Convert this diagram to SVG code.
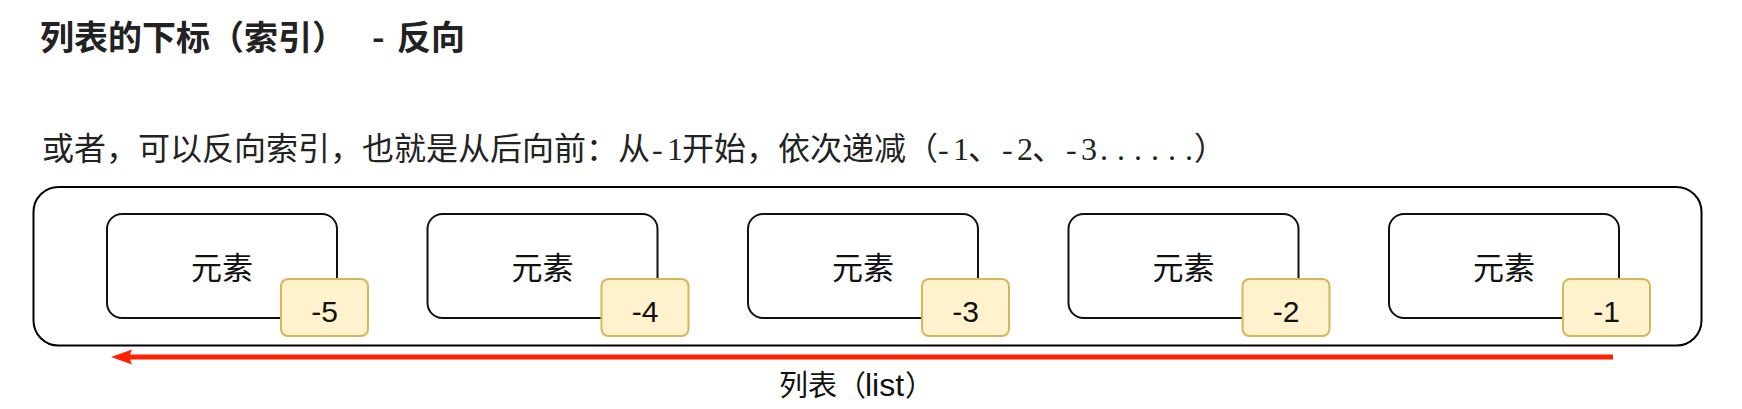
<svg xmlns="http://www.w3.org/2000/svg" width="1742" height="409" viewBox="0 0 1742 409">
  <style>
    .title { font-family: "Noto Sans CJK SC", sans-serif; font-size: 34px; font-weight: 700; fill: #222; }
    .sub { font-family: "Noto Sans CJK SC", sans-serif; font-size: 32px; fill: #222; }
    .subl { font-family: "Liberation Serif", "Noto Sans CJK SC", serif; }
    .outer { fill: #ffffff; stroke: #000; stroke-width: 2; }
    .box { fill: #ffffff; stroke: #111; stroke-width: 2; }
    .badge { fill: #fff2cc; stroke: #d6b656; stroke-width: 2; }
    .lbl { font-family: "Liberation Sans", "Noto Sans CJK SC", sans-serif; font-size: 31px; fill: #111; text-anchor: middle; dominant-baseline: central; }
    .num { font-family: "Liberation Sans", "Noto Sans CJK SC", sans-serif; font-size: 30px; fill: #111; text-anchor: middle; dominant-baseline: central; }
    .cap { font-family: "Liberation Sans", "Noto Sans CJK SC", sans-serif; font-size: 29px; fill: #111; }
    .arrow { stroke: #ff2200; stroke-width: 5; fill: none; }
  </style>

  <g id="title">
    <text class="title" y="50"><tspan x="40">列表的下标（索引）</tspan><tspan x="372">-</tspan><tspan x="397">反向</tspan></text>
  </g>

  <g id="subtitle">
    <text class="sub" y="160"><tspan x="42">或者，可以反向索引，也就是从后向前：从</tspan><tspan class="subl" x="652 667">-1</tspan><tspan x="682">开始，依次递减</tspan><tspan x="906">（</tspan><tspan class="subl" x="938 953">-1</tspan><tspan x="968">、</tspan><tspan class="subl" x="1002 1017">-2</tspan><tspan x="1032">、</tspan><tspan class="subl" x="1066 1081 1100 1117 1134 1151 1168 1185">-3......</tspan><tspan x="1194">）</tspan></text>
  </g>

  <g id="list">
    <rect class="outer" x="33.5" y="187" width="1668" height="158.5" rx="25"/>
  </g>

  <g id="element-5">
    <rect class="box" x="107" y="214" width="230" height="104" rx="15"/>
    <text class="lbl" x="222" y="268">元素</text>
  </g>
  <g id="index-5">
    <rect class="badge" x="281" y="279" width="87" height="57" rx="7"/>
    <text class="num" x="324.5" y="311">-5</text>
  </g>

  <g id="element-4">
    <rect class="box" x="427.5" y="214" width="230" height="104" rx="15"/>
    <text class="lbl" x="542.5" y="268">元素</text>
  </g>
  <g id="index-4">
    <rect class="badge" x="601.5" y="279" width="87" height="57" rx="7"/>
    <text class="num" x="645" y="311">-4</text>
  </g>

  <g id="element-3">
    <rect class="box" x="748" y="214" width="230" height="104" rx="15"/>
    <text class="lbl" x="863" y="268">元素</text>
  </g>
  <g id="index-3">
    <rect class="badge" x="922" y="279" width="87" height="57" rx="7"/>
    <text class="num" x="965.5" y="311">-3</text>
  </g>

  <g id="element-2">
    <rect class="box" x="1068.5" y="214" width="230" height="104" rx="15"/>
    <text class="lbl" x="1183.5" y="268">元素</text>
  </g>
  <g id="index-2">
    <rect class="badge" x="1242.5" y="279" width="87" height="57" rx="7"/>
    <text class="num" x="1286" y="311">-2</text>
  </g>

  <g id="element-1">
    <rect class="box" x="1389" y="214" width="230" height="104" rx="15"/>
    <text class="lbl" x="1504" y="268">元素</text>
  </g>
  <g id="index-1">
    <rect class="badge" x="1563" y="279" width="87" height="57" rx="7"/>
    <text class="num" x="1606.5" y="311">-1</text>
  </g>

  <g id="connectors">
    <line class="arrow" x1="1613" y1="357" x2="126" y2="357"/>
    <path d="M111,357 L132,349.5 L129,357 L132,364.5 Z" fill="#ff2200"/>
  </g>

  <g id="caption">
    <text class="cap" y="396"><tspan x="779">列表（</tspan><tspan x="865" font-size="32">list</tspan><tspan x="905">）</tspan></text>
  </g>
</svg>
